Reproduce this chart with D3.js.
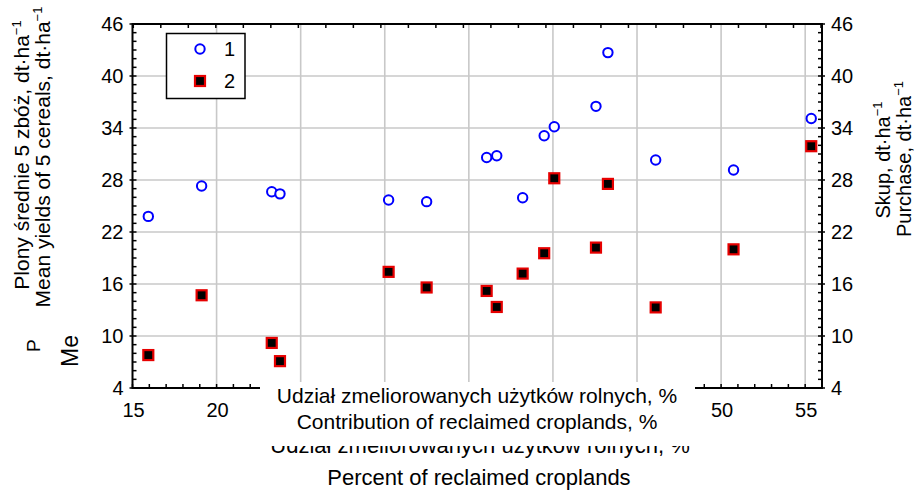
<!DOCTYPE html>
<html>
<head>
<meta charset="utf-8">
<script src="https://cdn.jsdelivr.net/npm/d3@7"></script>
<style>
  body { margin: 0; background: #fff; }
  text { font-family: "Liberation Sans", Arial, sans-serif; fill: #000; }
</style>
</head>
<body>
<div id="chart"></div>
<script>
// values
const reclaimed = [15.94, 19.11, 23.28, 23.77, 30.23, 32.49, 36.06, 36.66, 38.2, 39.48, 40.08, 42.56, 43.27, 46.11, 50.74, 55.36]
const yields = [23.8, 27.3, 26.65, 26.4, 25.7, 25.5, 30.6, 30.8, 25.95, 33.1, 34.15, 36.5, 42.7, 30.3, 29.15, 35.1]
const purchase = [7.8, 14.7, 9.2, 7.1, 17.4, 15.6, 15.2, 13.35, 17.2, 19.55, 28.2, 20.2, 27.55, 13.3, 20.0, 31.9]
const xTicks = [15, 20, 25, 30, 35, 40, 45, 50, 55]
const yTicks = [4, 10, 16, 22, 28, 34, 40, 46]
const seriesNames = ["1", "2"]

const width = 917
const height = 494

const svg = d3.select("#chart").append("svg")
    .attr("width", width)
    .attr("height", height)

const x = d3.scaleLinear().domain([15, 56]).range([132.5, 822])
const y = d3.scaleLinear().domain([4, 46]).range([388, 24])
// top frame has its own (unlabelled) tick spacing
const xTop = d3.scaleLinear().domain([0, 25]).range([133.3, 821])

const [x0, x1] = x.range()
const [y0, y1] = y.range()

// white label box of the x title covers the middle of the axis
const box = { x: 260, y: 382, w: 435, h: 64 }
const hiddenByBox = v => x(v) > box.x && x(v) < box.x + box.w

// grid
svg.append("g").selectAll("line")
    .data(xTicks.filter(d => d > 15))
    .join("line")
    .attr("x1", d => x(d)).attr("x2", d => x(d))
    .attr("y1", y1).attr("y2", y0)
    .attr("stroke", "#c8c8c8").attr("stroke-width", 1.6)
svg.append("g").selectAll("line")
    .data(yTicks.filter(d => d > 4 && d < 46))
    .join("line")
    .attr("x1", x0).attr("x2", x1)
    .attr("y1", d => y(d)).attr("y2", d => y(d))
    .attr("stroke", "#c8c8c8").attr("stroke-width", 1.6)

// minor ticks, pointing inwards
const ticks = svg.append("g").attr("stroke", "#000").attr("stroke-width", 1.5)
ticks.selectAll(".bt").data(d3.range(15, 57)).join("line")
    .attr("x1", d => x(d)).attr("x2", d => x(d))
    .attr("y1", y0).attr("y2", y0 - 4)
ticks.selectAll(".tt").data(d3.range(0, 26)).join("line")
    .attr("x1", d => xTop(d)).attr("x2", d => xTop(d))
    .attr("y1", y1).attr("y2", y1 + 4)
ticks.selectAll(".lt").data(d3.range(4, 47)).join("line")
    .attr("x1", d => yTicks.includes(d) ? x0 - 3 : x0).attr("x2", x0 + 4)
    .attr("y1", d => y(d)).attr("y2", d => y(d))
ticks.selectAll(".rt").data(d3.range(4, 47)).join("line")
    .attr("x1", x1 - 4).attr("x2", d => yTicks.includes(d) ? x1 + 3 : x1)
    .attr("y1", d => y(d)).attr("y2", d => y(d))

// frame
svg.append("rect")
    .attr("x", x0).attr("y", y1)
    .attr("width", x1 - x0).attr("height", y0 - y1)
    .attr("fill", "none").attr("stroke", "#000").attr("stroke-width", 2)

// tick labels
svg.append("g").selectAll("text").data(yTicks).join("text")
    .attr("x", x0 - 9).attr("y", d => y(d))
    .attr("text-anchor", "end").attr("dominant-baseline", "central")
    .style("font-size", "20px").text(d => d)
svg.append("g").selectAll("text").data(yTicks).join("text")
    .attr("x", x1 + 9).attr("y", d => y(d))
    .attr("dominant-baseline", "central")
    .style("font-size", "20px").text(d => d)
svg.append("g").selectAll("text").data(xTicks.filter(d => !hiddenByBox(d))).join("text")
    .attr("x", d => x(d) + 1).attr("y", 417)
    .attr("text-anchor", "middle")
    .style("font-size", "20px").text(d => d)

// second copy of the x title, mostly hidden behind the label box
svg.append("text")
    .attr("x", 480).attr("y", 453).attr("text-anchor", "middle")
    .style("font-size", "22px").text("Udział zmeliorowanych użytków rolnych, %")

svg.append("rect")
    .attr("x", box.x).attr("y", box.y).attr("width", box.w).attr("height", box.h)
    .attr("fill", "#fff")
svg.append("text")
    .attr("x", 477).attr("y", 403).attr("text-anchor", "middle")
    .style("font-size", "21px").text("Udział zmeliorowanych użytków rolnych, %")
svg.append("text")
    .attr("x", 477).attr("y", 429).attr("text-anchor", "middle")
    .style("font-size", "21px").text("Contribution of reclaimed croplands, %")
svg.append("text")
    .attr("x", 479).attr("y", 485).attr("text-anchor", "middle")
    .style("font-size", "22px").text("Percent of reclaimed croplands")

// points
svg.append("g").selectAll("circle")
    .data(reclaimed.map((v, i) => [v, yields[i]]))
    .join("circle")
    .attr("cx", d => x(d[0])).attr("cy", d => y(d[1]))
    .attr("r", 4.7)
    .attr("fill", "#fff").attr("stroke", "#0000ff").attr("stroke-width", 2)
svg.append("g").selectAll("rect")
    .data(reclaimed.map((v, i) => [v, purchase[i]]))
    .join("rect")
    .attr("x", d => x(d[0]) - 5).attr("y", d => y(d[1]) - 5)
    .attr("width", 10).attr("height", 10)
    .attr("fill", "#000").attr("stroke", "#e60000").attr("stroke-width", 2.2)

// legend
const legend = svg.append("g")
legend.append("rect")
    .attr("x", 166.5).attr("y", 33.5).attr("width", 78.5).attr("height", 65)
    .attr("fill", "#fff").attr("stroke", "#000").attr("stroke-width", 1.5)
legend.append("circle")
    .attr("cx", 200).attr("cy", 49).attr("r", 4.7)
    .attr("fill", "#fff").attr("stroke", "#0000ff").attr("stroke-width", 2)
legend.append("rect")
    .attr("x", 195).attr("y", 76).attr("width", 10).attr("height", 10)
    .attr("fill", "#000").attr("stroke", "#e60000").attr("stroke-width", 2.2)
legend.selectAll("text").data(seriesNames).join("text")
    .attr("x", 224).attr("y", (d, i) => 49 + i * 32)
    .attr("dominant-baseline", "central")
    .style("font-size", "20px").text(d => d)

// rotated titles with superscript unit
function vTitle(tx, ty, label, size, unit) {
    const t = svg.append("text")
        .attr("transform", `translate(${tx},${ty}) rotate(-90)`)
        .attr("text-anchor", unit ? "middle" : "start")
        .style("font-size", size + "px")
    t.append("tspan").text(label)
    if (unit) {
        t.append("tspan").text(unit)
        t.append("tspan").attr("dy", -8).style("font-size", "13px").text("\u22121")
    }
}
vTitle(29, 155, "Plony średnie 5 zbóż, ", 21, "dt·ha")
vTitle(50, 157, "Mean yields of 5 cereals, ", 21, "dt·ha")
vTitle(40, 352, "P", 19)
vTitle(78, 367, "Me", 23)
vTitle(890, 160, "Skup, ", 20, "dt·ha")
vTitle(911, 159, "Purchase, ", 20, "dt·ha")
</script>
</body>
</html>
